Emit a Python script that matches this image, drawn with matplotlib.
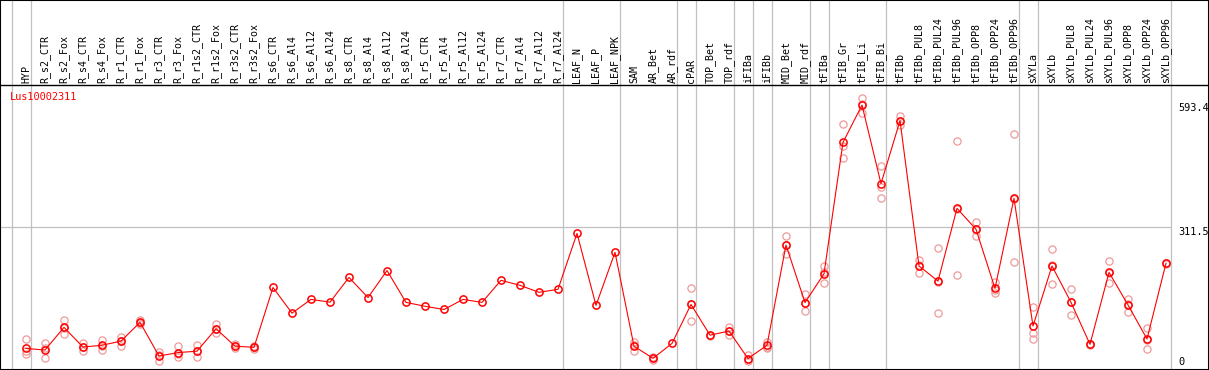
import numpy as np
import matplotlib
matplotlib.use('Agg')
import matplotlib.pyplot as plt

gene = 'Lus10002311'

samples = ['HYP', 'R_s2_CTR', 'R_s2_Fox', 'R_s4_CTR', 'R_s4_Fox', 'R_r1_CTR', 'R_r1_Fox',
           'R_r3_CTR', 'R_r3_Fox', 'R_r1s2_CTR', 'R_r1s2_Fox', 'R_r3s2_CTR', 'R_r3s2_Fox',
           'R_s6_CTR', 'R_s6_Al4', 'R_s6_Al12', 'R_s6_Al24', 'R_s8_CTR', 'R_s8_Al4',
           'R_s8_Al12', 'R_s8_Al24', 'R_r5_CTR', 'R_r5_Al4', 'R_r5_Al12', 'R_r5_Al24',
           'R_r7_CTR', 'R_r7_Al4', 'R_r7_Al12', 'R_r7_Al24', 'LEAF_N', 'LEAF_P', 'LEAF_NPK',
           'SAM', 'AR_Bet', 'AR_rdf', 'cPAR', 'TOP_Bet', 'TOP_rdf', 'iFIBa', 'iFIBb',
           'MID_Bet', 'MID_rdf', 'tFIBa', 'tFIB_Gr', 'tFIB_Li', 'tFIB_Bi', 'tFIBb',
           'tFIBb_PUL8', 'tFIBb_PUL24', 'tFIBb_PUL96', 'tFIBb_OPP8', 'tFIBb_OPP24',
           'tFIBb_OPP96', 'sXYLa', 'sXYLb', 'sXYLb_PUL8', 'sXYLb_PUL24', 'sXYLb_PUL96',
           'sXYLb_OPP8', 'sXYLb_OPP24', 'sXYLb_OPP96']

means = [47, 43.6, 93, 50, 54, 63, 104, 30.5, 38, 41, 90, 52, 49.5,
         180, 124, 154, 148, 202, 158, 217, 147.5, 139, 132, 154, 147.5,
         195.6, 184.7, 169.5, 176, 298, 141, 256.7,
         52, 25.5, 58, 143, 76, 85, 25, 54,
         272.7, 147, 210, 496.6, 578, 406.5, 544,
         227, 194, 352.7, 307, 178, 374.5,
         96, 227, 147.6, 56, 213, 142, 67.6, 233]

N = None
rep_a = [67, 58, 109, 58, 65, 73, 109, 39, 52, 54, 100, 57, 52,
         N, N, N, N, N, N, N, N, N, N, N, N, N, N, N, N, N, N, N,
         60, 29, N, 178, 77, 93, 32, 62,
         292, 166, 227.6, 536.6, 593.4, 444, 554,
         240, 265.5, 499.6, 322, 192.7, 514,
         138, 264, 176, 57, 238, 155, 91, 234]
rep_b = [41, 47, 92, 51, 53, 64, 102, 32, 34, 41, 89, 52, 51,
         N, N, N, N, N, N, N, N, N, N, N, N, N, N, N, N, N, N, N,
         54, 26, N, 145, 75, 86, 24, 51,
         273, 147, 213, 488.7, 580, 400, 543,
         230, 193, 352, 306, 174, 374,
         80, 230, 148, 55, 212, 144, 66, 232]
rep_c = [34, 25.5, 78, 41, 44, 52, 101, 20, 28, 28, 81, 47, 45,
         N, N, N, N, N, N, N, N, N, N, N, N, N, N, N, N, N, N, N,
         42, 21, N, 106, N, 76, 19.6, 49,
         253, 128, 189, 461.6, 560, 374.5, 534.5,
         211, 123.6, 206.5, 293, 167, 235,
         67, 187, 119, N, 189, 127, 46, N]

# boundaries drawn after these sample indices
group_ends = [-1, 0, 28, 31, 34, 35, 37, 38, 39, 41, 42, 45, 52, 53, 60]

y_ticks = [593.4, 311.5, 0]

W, H = 1209, 370
fig = plt.figure(figsize=(W / 100, H / 100), dpi=100)
ax = fig.add_axes([0, 0, 1, 1])

px_per_unit = 272 / 593.4   # 593.4 at pixel row 98, 0 at row 370
x0, dx = 26, 19              # first sample column, column spacing
ax.set_xlim(-x0 / dx, (W - x0) / dx)
ax.set_ylim(0, H / px_per_unit)
ax.set_xticks([])
ax.set_yticks([])
for s in ax.spines.values():
    s.set_linewidth(1.5)
    s.set_color('black')

def ypix(row):
    return (H - row) / px_per_unit

x = np.arange(len(samples))
x_last = (1170.5 - x0) / dx

# grid
for g in group_ends:
    ax.axvline(g + 0.24, color='#c0c0c0', lw=0.9, zorder=1)
ax.hlines(311.5, ax.get_xlim()[0], x_last, color='#c0c0c0', lw=0.9, zorder=1)
ax.axhline(ypix(85), color='black', lw=1.0, zorder=3)

# replicates
for reps in (rep_a, rep_b, rep_c):
    xv = [xi for xi, r in zip(x, reps) if r is not None]
    yv = [r for r in reps if r is not None]
    ax.plot(xv, yv, 'o', ms=5.2, mfc='none', mec='#ee9a9a', mew=0.9, zorder=2)

# means
ax.plot(x, means, '-', color='red', lw=0.8, zorder=4)
ax.plot(x, means, 'o', ms=5.2, mfc='none', mec='red', mew=1.1, zorder=5)

mono = 'DejaVu Sans Mono'
for xi, name in zip(x, samples):
    ax.text(xi, ypix(83), name, rotation=90, ha='center', va='bottom',
            fontsize=7.2, family=mono, color='black')

ax.text(10 / W, 1 - 97 / H, gene, transform=ax.transAxes, ha='left', va='center',
        fontsize=7.4, family=mono, color='red')

offsets = {593.4: -10, 311.5: -5, 0: 8}
for v in y_ticks:
    lab = f'{v:g}' if v else '0'
    ax.annotate(lab, xy=((1178 - x0) / dx, v), xytext=(0, offsets[v]),
                textcoords='offset pixels', ha='left', va='center',
                fontsize=7.4, family=mono, color='black')

fig.savefig('out.png', dpi=100)
